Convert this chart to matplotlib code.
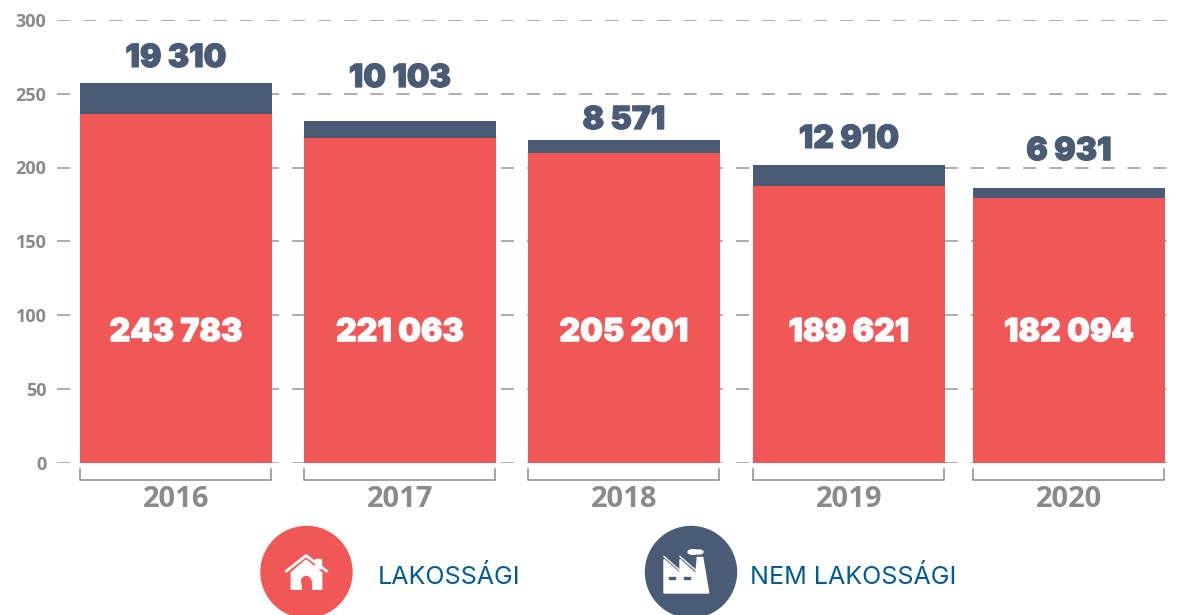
import matplotlib
matplotlib.use("Agg")
import matplotlib.pyplot as plt
import matplotlib.patheffects as pe
from matplotlib.patches import Circle, Polygon, Ellipse, Rectangle

# magassagok a kep alapjan (ezer)
years = ['2016', '2017', '2018', '2019', '2020']
lakossagi = [236, 220, 209.8, 187.5, 179.3]
nem_lakossagi = [21.3, 11.5, 8.8, 14.2, 6.7]
lakossagi_labels = ['243 783', '221 063', '205 201', '189 621', '182 094']
nem_lakossagi_labels = ['19 310', '10 103', '8 571', '12 910', '6 931']
y_ticks = [0, 50, 100, 150, 200, 250, 300]

RED = '#F25757'
BLUE = '#4A5C75'
GREY = '#8A8A8A'
W, H = 1180, 615

plt.rcParams['lines.scale_dashes'] = False

fig = plt.figure(figsize=(W / 100, H / 100), dpi=100)

# a fo tengely pixelben van x iranyban, mert az oszlopok nem egyenletesek
ax = fig.add_axes([57 / W, (H - 462.5) / H, (1170 - 57) / W, 442.5 / H])
ax.set_xlim(57, 1170)
ax.set_ylim(0, 300)

bar_left = [80, 304, 528, 753, 973]
bar_w = 192
centers = [x + bar_w / 2 for x in bar_left]
label_gap = [24.5, 42.5, 19.5, 25.5, 36.5]  # pixel a felirat kozepeig

ax.bar(centers, lakossagi, bar_w, color=RED, zorder=3)
ax.bar(centers, nem_lakossagi, bar_w, bottom=lakossagi, color=BLUE, zorder=3)

ax.set_yticks(y_ticks)
ax.set_yticklabels([str(v) for v in y_ticks], family='Open Sans', weight='bold', fontsize=13, color=GREY)
ax.set_xticks(centers)
ax.set_xticklabels(years, family='Open Sans', weight='bold', fontsize=21, color=GREY)
ax.tick_params(axis='y', length=0, pad=7.5)
ax.tick_params(axis='x', length=0, pad=16.5)
ax.yaxis.grid(True, color='#A0A0A0', lw=1.2, dashes=(9.4, 9.4), zorder=1)
ax.set_axisbelow(True)
for s in ax.spines.values():
    s.set_visible(False)

for i, c in enumerate(centers):
    ax.text(c, 88, lakossagi_labels[i], ha='center', va='center', color='white',
            family='Inter', weight='black', fontsize=23, zorder=4,
            path_effects=[pe.withStroke(linewidth=0.8, foreground='white')])
    ax.annotate(nem_lakossagi_labels[i], (c, lakossagi[i] + nem_lakossagi[i]),
                xytext=(0, label_gap[i] * 0.72), textcoords='offset points',
                ha='center', va='center', color=BLUE, family='Inter', weight='black', fontsize=23,
                path_effects=[pe.withStroke(linewidth=0.8, foreground=BLUE)])

# felso reteg pixel koordinatakkal: zarojelek es ikonok
ov = fig.add_axes([0, 0, 1, 1])
ov.set_xlim(0, W)
ov.set_ylim(H, 0)
ov.axis('off')
ov.patch.set_alpha(0)

for x in bar_left:
    ov.plot([x, x, x + bar_w - 1, x + bar_w - 1], [469, 479.5, 479.5, 469], color=GREY, lw=1.1)

# lakossagi ikon
ov.add_patch(Circle((306.5, 572), 45.5, color=RED))
ov.add_patch(Polygon([(291.3, 589.3), (291.3, 572.7), (306, 560), (321.7, 572.7), (321.7, 589.3)], color='white'))
ov.plot([286.5, 306, 326.5], [571, 555.5, 571], color='white', lw=2)
ov.add_patch(Rectangle((315, 559), 6, 9, color='white'))
ov.add_patch(Rectangle((301.7, 581), 9, 9, color=RED))
ov.add_patch(Circle((306.2, 581), 4.5, color=RED))

# nem lakossagi ikon
ov.add_patch(Circle((691, 572), 45.5, color=BLUE))
factory = [(664, 593), (664, 559.5), (680, 573.5), (680, 559.5), (696, 574), (697.3, 557.5),
           (702.7, 557.5), (708.7, 593)]
ov.add_patch(Polygon(factory, color='white'))
ov.plot([664, 680], [556.5, 570.5], color='white', lw=1)
ov.plot([680, 696], [556.5, 570.5], color='white', lw=1)
ov.add_patch(Ellipse((693, 552), 10, 4.5, color='white'))
ov.add_patch(Ellipse((698.5, 552), 9, 4, color='white'))
ov.add_patch(Rectangle((668.5, 577), 6, 2, color=BLUE))
ov.add_patch(Rectangle((684, 577), 6, 2, color=BLUE))

ov.text(378, 577, 'LAKOSSÁGI', va='center', ha='left', color='#005A96', family='Inter', fontsize=18)
ov.text(750, 577, 'NEM LAKOSSÁGI', va='center', ha='left', color='#005A96', family='Inter', fontsize=18)

fig.savefig('out.png', dpi=100)
